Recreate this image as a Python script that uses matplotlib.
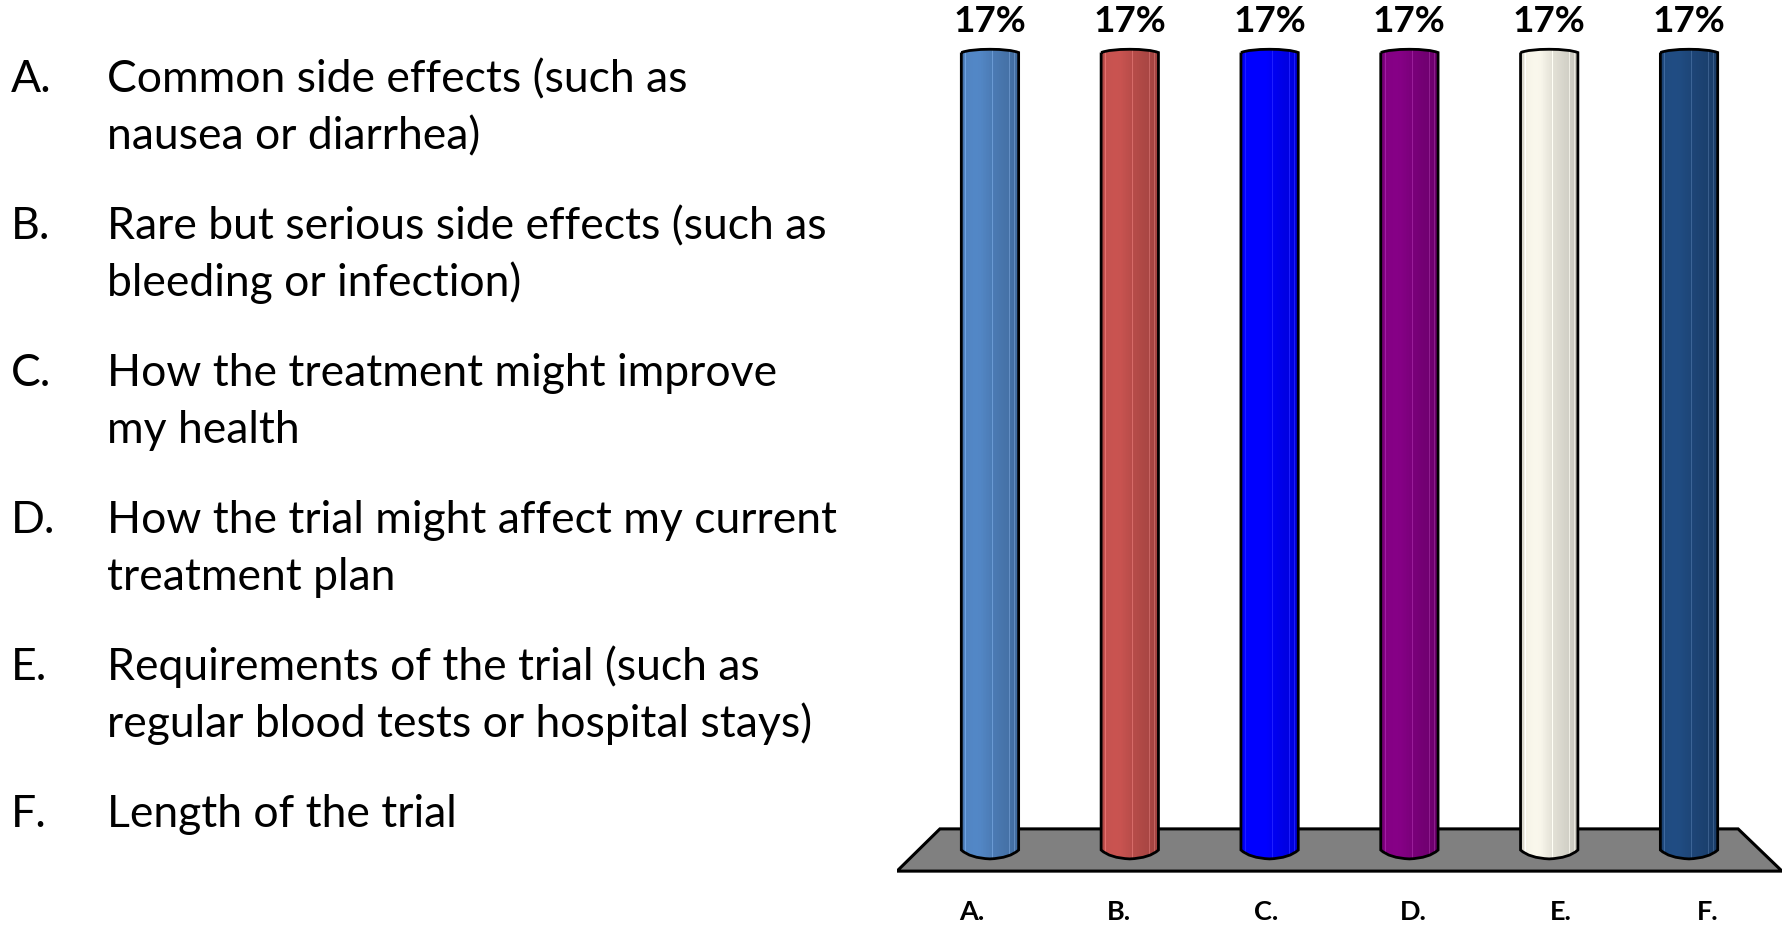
import numpy as np
import matplotlib.pyplot as plt
from matplotlib.patches import Polygon, PathPatch
from matplotlib.path import Path
from matplotlib.colors import to_rgb

plt.rcParams['font.family'] = ['Lato', 'DejaVu Sans']

# answer options and poll results
letters = ['A.', 'B.', 'C.', 'D.', 'E.', 'F.']
options = [
    'Common side effects (such as\nnausea or diarrhea)',
    'Rare but serious side effects (such as\nbleeding or infection)',
    'How the treatment might improve\nmy health',
    'How the trial might affect my current\ntreatment plan',
    'Requirements of the trial (such as\nregular blood tests or hospital stays)',
    'Length of the trial',
]
percent = [17, 17, 17, 17, 17, 17]
bar_colors = ['#4F81BD', '#C0504D', '#0000FF', '#800080', '#EEECE1', '#1F497D']

W, H = 1789, 926
fig = plt.figure(figsize=(W / 100, H / 100), dpi=100)

# left column: the list of options
for k, (let, txt) in enumerate(zip(letters, options)):
    yb = 92 + 147 * k
    fig.text(11 / W, 1 - yb / H, let, fontsize=32, va='baseline', ha='left')
    for j, line in enumerate(txt.split('\n')):
        fig.text(107 / W, 1 - (yb + 57 * j) / H, line, fontsize=32,
                 va='baseline', ha='left')

# chart area
ax = fig.add_axes([897 / W, 0, 885 / W, 1])
ax.axis('off')

# grey floor in perspective
floor = Polygon([(-0.665, -0.45), (-0.358, 0.45), (5.351, 0.45), (5.665, -0.45)],
                closed=True, facecolor='#808080', edgecolor='black', lw=2.2, zorder=1)
ax.add_patch(floor)

x = np.arange(len(percent))
bars = ax.bar(x, percent, width=0.41, color=bar_colors, linewidth=0, zorder=2)


def cylinder_shade(base, n=80):
    t = np.linspace(0, 1, n)
    f = 1.0 + 0.05 * np.exp(-((t - 0.25) / 0.2) ** 2) - 0.25 * np.clip(t - 0.35, 0, None)
    f[t < 0.04] *= 0.9
    rgb = np.clip(np.outer(f, to_rgb(base)), 0, 1)
    # thin light facets
    for s in (0.08, 0.55, 0.72, 0.84, 0.93):
        i = int(s * (n - 1))
        rgb[i] = np.clip(rgb[i] + 0.12, 0, 1)
    return rgb[None, :, :]


for rect, c in zip(bars, bar_colors):
    x0, w, h = rect.get_x(), rect.get_width(), rect.get_height()
    cx = x0 + w / 2
    bot, top = 0.19, 0.07
    verts = [(x0, h), (x0, 0),
             (x0 + w * 0.15, -bot * 0.9), (cx, -bot), (x0 + w * 0.85, -bot * 0.9),
             (x0 + w, 0), (x0 + w, h),
             (x0 + w * 0.85, h + top), (cx, h + top), (x0 + w * 0.15, h + top), (x0, h)]
    codes = [Path.MOVETO, Path.LINETO,
             Path.CURVE3, Path.CURVE3, Path.CURVE3, Path.CURVE3, Path.LINETO,
             Path.CURVE3, Path.CURVE3, Path.CURVE3, Path.CURVE3]
    path = Path(verts, codes)
    shade = ax.imshow(cylinder_shade(c), extent=(x0, x0 + w, -bot, h + top),
                      aspect='auto', zorder=3, interpolation='nearest')
    outline = PathPatch(path, facecolor='none', edgecolor='black', lw=2, zorder=4)
    ax.add_patch(outline)
    shade.set_clip_path(outline)

    ax.annotate(f'{rect.get_height():.0f}%', (cx, h), xytext=(0, 22.5),
                textcoords='offset points', ha='center', va='center',
                fontsize=26.5, fontweight='bold', annotation_clip=False)

# category letters along the front edge of the floor
for i, let in enumerate(letters):
    ax.text(2.5 + (i - 2.5) * 1.053, -1.33, let, ha='center', va='center',
            fontsize=19.5, fontweight='bold')

ax.set_xlim(-0.665, 5.665)
ax.set_ylim(-1.62, 18.12)

fig.savefig('out.png', dpi=100)
